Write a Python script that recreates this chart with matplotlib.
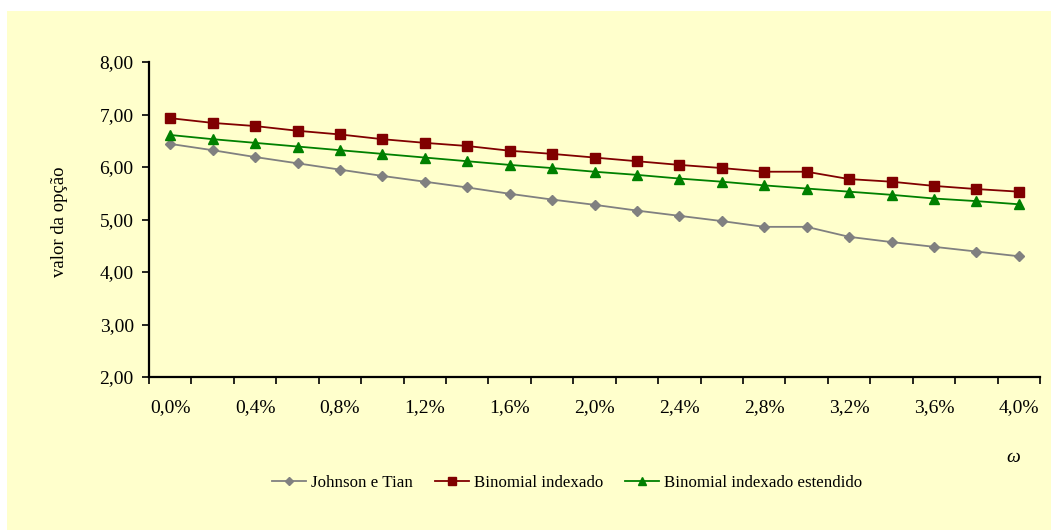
import matplotlib
matplotlib.use("Agg")
import matplotlib.pyplot as plt
from matplotlib.patches import Rectangle
from matplotlib.ticker import FixedLocator, FuncFormatter, NullFormatter

plt.rcParams['font.family'] = ['Liberation Serif', 'DejaVu Serif']

# omega de 0,0% a 4,0% em passos de 0,2%
omega = [0.0, 0.2, 0.4, 0.6, 0.8, 1.0, 1.2, 1.4, 1.6, 1.8, 2.0,
         2.2, 2.4, 2.6, 2.8, 3.0, 3.2, 3.4, 3.6, 3.8, 4.0]

johnson_tian = [6.44, 6.32, 6.19, 6.07, 5.95, 5.83, 5.72, 5.61, 5.49, 5.38, 5.28,
                5.17, 5.07, 4.97, 4.86, 4.86, 4.67, 4.57, 4.48, 4.39, 4.30]
binomial_idx = [6.93, 6.84, 6.78, 6.69, 6.62, 6.53, 6.46, 6.40, 6.31, 6.25, 6.18,
                6.11, 6.04, 5.98, 5.91, 5.91, 5.77, 5.72, 5.64, 5.58, 5.53]
binomial_ext = [6.61, 6.53, 6.46, 6.39, 6.32, 6.25, 6.18, 6.11, 6.04, 5.98, 5.91,
                5.85, 5.78, 5.72, 5.65, 5.59, 5.53, 5.47, 5.40, 5.35, 5.29]

series_names = ['Johnson e Tian', 'Binomial indexado', 'Binomial indexado estendido']

W, H = 1051, 530
fig = plt.figure(figsize=(W / 100, H / 100), dpi=100, facecolor='white')

# fundo amarelo da área do gráfico
fig.patches.append(Rectangle((7 / W, 0), 1 - 7 / W, 1 - 11 / H,
                             transform=fig.transFigure, facecolor='#FFFFCC',
                             edgecolor='none', zorder=-10))

ax = fig.add_axes([149 / W, (H - 377) / H, 891 / W, 315 / H])
ax.set_facecolor('none')
ax.set_zorder(1)

x = list(range(len(omega)))
ax.plot(x, johnson_tian, color='#808080', marker='D', markersize=5.2,
        linewidth=1.3, label=series_names[0], zorder=3)
ax.plot(x, binomial_idx, color='#800000', marker='s', markersize=7.8,
        markeredgecolor='#800000', linewidth=1.3, label=series_names[1], zorder=3)
ax.plot(x, binomial_ext, color='#008000', marker='^', markersize=7.8,
        linewidth=1.3, label=series_names[2], zorder=3)

ax.set_xlim(-0.5, len(omega) - 0.5)
ax.set_ylim(2, 8)

for s in ['top', 'right']:
    ax.spines[s].set_visible(False)
for s in ['left', 'bottom']:
    ax.spines[s].set_linewidth(1.6)
    ax.spines[s].set_color('black')

# marcas entre categorias, rótulos a cada duas categorias
ax.xaxis.set_minor_locator(FixedLocator([i - 0.5 for i in range(len(omega) + 1)]))
ax.xaxis.set_minor_formatter(NullFormatter())
ax.xaxis.set_major_locator(FixedLocator(x[::2]))
ax.xaxis.set_major_formatter(FuncFormatter(
    lambda v, p: ('%.1f%%' % omega[int(round(v))]).replace('.', ',')))
ax.tick_params(axis='x', which='major', length=0, pad=16, labelsize=14)
ax.tick_params(axis='x', which='minor', length=5, width=1.2, direction='out')

ax.set_yticks([2, 3, 4, 5, 6, 7, 8])
ax.yaxis.set_major_formatter(FuncFormatter(lambda v, p: ('%.2f' % v).replace('.', ',')))
ax.tick_params(axis='y', length=5, width=1.2, direction='out', pad=6, labelsize=14)

fig.text(60 / W, 1 - 222 / H, 'valor da opção', rotation=90, ha='center',
         va='center', fontsize=13.5)
fig.text(1013 / W, 1 - 457 / H, 'ω', style='italic', ha='center', va='center',
         fontsize=14)

fig.legend(loc='center', bbox_to_anchor=(567 / W, 1 - 483 / H), ncol=3,
           frameon=False, fontsize=12.2, handlelength=2.0, handletextpad=0.3,
           columnspacing=1.3, markerscale=0.8)

fig.savefig('out.png', dpi=100, facecolor='white')
